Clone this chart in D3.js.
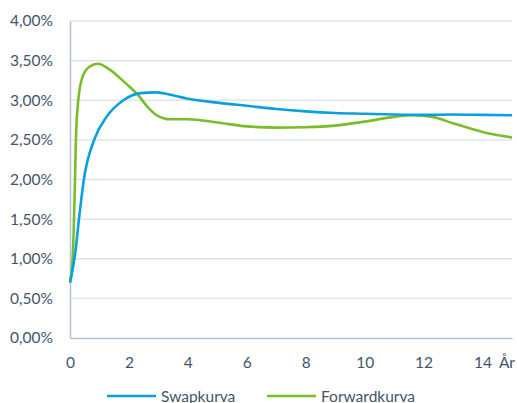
<!DOCTYPE html>
<html>
<head>
<meta charset="utf-8">
<script src="https://cdn.jsdelivr.net/npm/d3@7"></script>
<style>
  body { margin: 0; background: #fff; }
  text { font-family: Lato, "Open Sans", sans-serif; fill: #44546a; }
</style>
</head>
<body>
<div id="chart-area"></div>
<script>
// DATA (years, percent)
var swapYears = [0, 0.17, 0.32, 0.47, 0.82, 1.24, 1.81, 2.4, 2.9, 3.3, 4, 5, 6, 7, 8, 9, 10, 11, 12, 13, 14, 15];
var swapRates = [0.70, 1.05, 1.55, 2.0, 2.5, 2.79, 3.0, 3.09, 3.10, 3.08, 3.02, 2.97, 2.93, 2.89, 2.86, 2.84, 2.83, 2.82, 2.815, 2.82, 2.815, 2.81];

var fwdYears = [0, 0.09, 0.17, 0.2, 0.28, 0.43, 0.65, 0.95, 1.3, 1.9, 2.3, 2.6, 2.95, 3.4, 4, 5, 6, 7, 8, 9, 10, 11, 11.7, 12.3, 13, 14, 15];
var fwdRates = [0.70, 1.0, 2.0, 2.5, 3.0, 3.3, 3.42, 3.46, 3.40, 3.21, 3.07, 2.93, 2.81, 2.76, 2.76, 2.72, 2.67, 2.655, 2.66, 2.68, 2.73, 2.79, 2.81, 2.79, 2.71, 2.60, 2.53];

var yTicks = [0, 0.5, 1, 1.5, 2, 2.5, 3, 3.5, 4];
var xTicks = [0, 2, 4, 6, 8, 10, 12, 14];
var seriesNames = ["Swapkurva", "Forwardkurva"];
var seriesColors = ["#0aa0dc", "#78be28"];

var margin = { left: 70, right: 5, top: 21, bottom: 65 };
var width = 517 - margin.left - margin.right,
    height = 403 - margin.top - margin.bottom;
var fontSize = "15.5px";

var svg = d3.select("#chart-area")
    .append("svg")
        .attr("width", 517)
        .attr("height", 403);

var g = svg.append("g")
    .attr("transform", "translate(" + margin.left + "," + margin.top + ")");

// SCALES
var x = d3.scaleLinear().domain([0, 15]).range([0, width]);
var y = d3.scaleLinear().domain([0, 4]).range([height, 0]);

// GRID
g.selectAll("line.grid")
    .data(yTicks.slice(1))
    .enter().append("line")
        .attr("class", "grid")
        .attr("x1", 0).attr("x2", width)
        .attr("y1", function(d) { return y(d); })
        .attr("y2", function(d) { return y(d); })
        .attr("stroke", "#dfe4eb")
        .attr("stroke-width", 1.5);

// Y AXIS
var yAxisCall = d3.axisLeft(y)
    .tickValues(yTicks)
    .tickSize(0)
    .tickPadding(17)
    .tickFormat(function(d) { return d3.format(".2f")(d).replace(".", ",") + "%"; });
var yAxis = g.append("g").call(yAxisCall);
yAxis.select(".domain").attr("stroke", "#b8c1d2").attr("stroke-width", 1.5);
yAxis.selectAll("text").attr("font-size", fontSize).style("fill", "#44546a");

// X AXIS
var xAxisCall = d3.axisBottom(x)
    .tickValues(xTicks)
    .tickSize(0)
    .tickPadding(19);
var xAxis = g.append("g")
    .attr("transform", "translate(0," + height + ")")
    .call(xAxisCall);
xAxis.select(".domain").attr("stroke", "#b8c1d2").attr("stroke-width", 1.5);
xAxis.selectAll("text").attr("font-size", fontSize).style("fill", "#44546a");

g.append("text")
    .attr("x", width + 3)
    .attr("y", height + 30)
    .attr("text-anchor", "end")
    .attr("font-size", fontSize)
    .text("År");

// LINES
var line = d3.line()
    .x(function(d) { return x(d[0]); })
    .y(function(d) { return y(d[1]); })
    .curve(d3.curveMonotoneX);

var swapData = swapYears.map(function(t, i) { return [t, swapRates[i]]; });
var fwdData = fwdYears.map(function(t, i) { return [t, fwdRates[i]]; });

[fwdData, swapData].forEach(function(data, i) {
    g.append("path")
        .datum(data)
        .attr("fill", "none")
        .attr("stroke", i === 0 ? seriesColors[1] : seriesColors[0])
        .attr("stroke-width", 2.6)
        .attr("stroke-linejoin", "round")
        .attr("d", line);
});

// LEGEND
var legendX = [107, 267];
seriesNames.forEach(function(name, i) {
    var row = svg.append("g")
        .attr("transform", "translate(" + legendX[i] + ",396)");
    row.append("line")
        .attr("x1", 0).attr("x2", 49)
        .attr("stroke", seriesColors[i])
        .attr("stroke-width", 2.6);
    row.append("text")
        .attr("x", 54)
        .attr("y", 5.5)
        .attr("font-size", fontSize)
        .text(name);
});
</script>
</body>
</html>
